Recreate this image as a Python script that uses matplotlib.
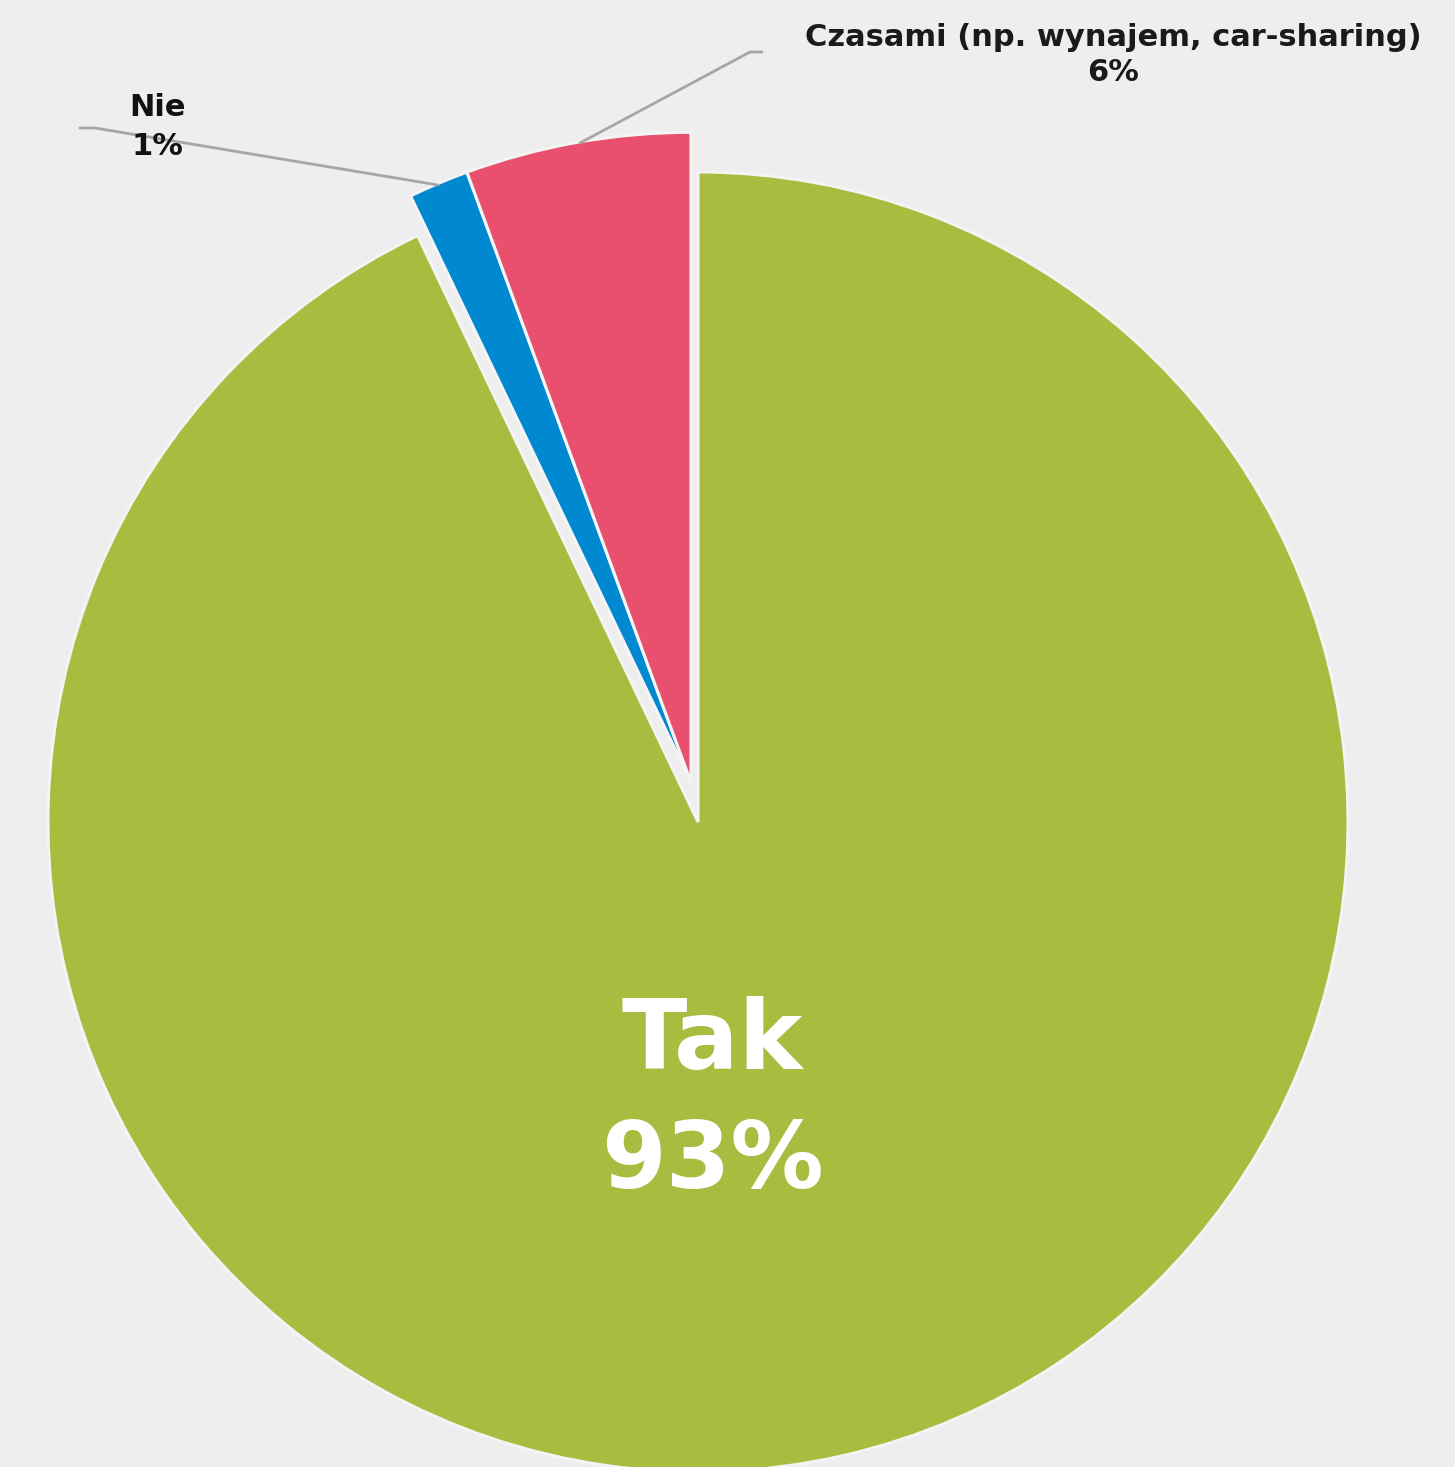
import matplotlib
matplotlib.use("Agg")
import matplotlib.pyplot as plt

categories = ["Tak", "Nie", "Czasami (np. wynajem, car-sharing)"]
values = [92.9, 1.5, 5.6]
pct_labels = ["93%", "1%", "6%"]
colors = ["#A8BC3F", "#0088D1", "#E8506E"]
explode_frac = [0.0, 0.062, 0.062]

W, H = 1455, 1467
fig = plt.figure(figsize=(W / 100, H / 100), dpi=100)
fig.patch.set_facecolor("#EEEEEE")
ax = fig.add_axes([0, 0, 1, 1])
ax.set_facecolor("#EEEEEE")

cx, cy, r = 698, -822, 650
wedges, _ = ax.pie(values, colors=colors, startangle=90, counterclock=False,
                   explode=[e * r for e in explode_frac], center=(cx, cy), radius=r,
                   frame=True, wedgeprops=dict(edgecolor="#F4F4F4", linewidth=2.2))
# the two small slices are pulled out together, as one block
wedges[1].set_center(wedges[2].center)
ax.set_xlim(0, W)
ax.set_ylim(-H, 0)
ax.set_aspect("equal")
ax.axis("off")

font = "DejaVu Sans"
# Tak label
ax.text(712, -1042, categories[0], color="white", fontsize=69, fontweight="bold",
        ha="center", va="center", family=font)
ax.text(712, -1162, pct_labels[0], color="white", fontsize=67, fontweight="bold",
        ha="center", va="center", family=font)

# Nie label
ax.text(157, -127, categories[1] + "\n" + pct_labels[1], color="#111111", fontsize=22,
        fontweight="bold", ha="center", va="center", family=font, linespacing=1.4)
ax.plot([438, 95, 80], [-185, -128, -128], color="#A6A6A6", lw=2, solid_capstyle="round")

# Czasami label
ax.text(1113, -55, categories[2] + "\n" + pct_labels[2], color="#1A1A1A", fontsize=22,
        fontweight="bold", ha="center", va="center", family=font, linespacing=1.25)
ax.plot([580, 750, 762], [-143, -52, -52], color="#A6A6A6", lw=2, solid_capstyle="round")

fig.savefig("out.png", dpi=100, facecolor=fig.get_facecolor())
